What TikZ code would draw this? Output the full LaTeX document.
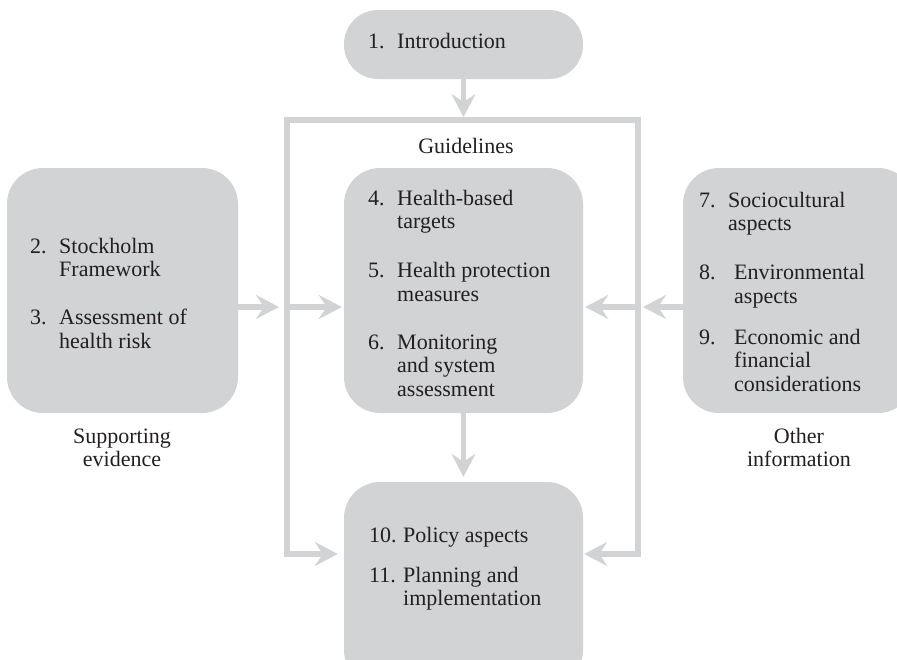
\documentclass[tikz,border=0pt]{standalone}
\usepackage{fontspec}
\setmainfont{Liberation Serif}
\usetikzlibrary{arrows.meta}
\definecolor{panelgrey}{RGB}{209,211,212}
\definecolor{textgrey}{RGB}{35,31,32}
\newcommand{\bodyfont}{\fontsize{22}{23.5}\selectfont}

\begin{document}
\begin{tikzpicture}[x=1pt, y=-1pt,
	panel/.style = {fill=panelgrey, rounded corners=36pt, inner sep=0pt},
	txt/.style = {anchor=base west, inner sep=0pt, text=textgrey, font=\bodyfont},
	heading/.style = {anchor=base, inner sep=0pt, text=textgrey, font=\bodyfont},
	wire/.style = {draw=panelgrey, line width=5.5pt},
	> = {Stealth[length=23pt, width=24pt, inset=8pt]}]
	\useasboundingbox (0,0) rectangle (897,659);
	\clip (0,0) rectangle (897,659);
	% boxes
	\node[panel, rounded corners=34pt, minimum width=239pt, minimum height=69pt] (intro) at (463.5,44.5) {};
	\node[panel, minimum width=231pt, minimum height=245pt] (evidence) at (122.5,290.5) {};
	\node[panel, minimum width=239pt, minimum height=245pt] (guide) at (463.5,290.5) {};
	\node[panel, minimum width=231pt, minimum height=245pt] (other) at (798.5,290.5) {};
	\node[panel, minimum width=239pt, minimum height=204pt] (policy) at (463.5,584) {};
	% texts
	\node[txt] (introtxt) at (368,48) {\begin{tabular}[t]{@{}p{29pt}@{}l@{}}
		1. & Introduction\end{tabular}};
	\node[txt] (evidencetxt) at (30,253) {\begin{tabular}[t]{@{}p{29pt}@{}l@{}}
		2. & Stockholm\\ & Framework\\[24.5pt]
		3. & Assessment of\\ & health risk\end{tabular}};
	\node[txt] (guidetxt) at (368,205) {\begin{tabular}[t]{@{}p{29pt}@{}l@{}}
		4. & Health-based\\ & targets\\[25.5pt]
		5. & Health protection\\ & measures\\[24.5pt]
		6. & Monitoring\\ & and system\\ & assessment\end{tabular}};
	\node[txt] (othertxt) at (699,207) {\begin{tabular}[t]{@{}p{29pt}@{}l@{}}
		7. & Sociocultural\\ & aspects\\[25.5pt]
		8. & \hspace*{6pt}Environmental\\ & \hspace*{6pt}aspects\\[17.5pt]
		9. & \hspace*{6pt}Economic and\\ & \hspace*{6pt}financial\\ & \hspace*{6pt}considerations\end{tabular}};
	\node[txt] (policytxt) at (369,542) {\begin{tabular}[t]{@{}p{34pt}@{}l@{}}
		10. & Policy aspects\\[16.5pt]
		11. & Planning and\\ & implementation\end{tabular}};
	\node[heading] (guidelines) at (466,153) {Guidelines};
	\node[heading] (evidencecap) at (122,443) {\begin{tabular}[t]{@{}c@{}}Supporting\\ evidence\end{tabular}};
	\node[heading] (othercap) at (799,443) {\begin{tabular}[t]{@{}c@{}}Other\\ information\end{tabular}};
	% frame and arrows
	\coordinate (ftl) at (287,120);
	\coordinate (ftr) at (638,120);
	\coordinate (fbl) at (287,554);
	\coordinate (fbr) at (638,554);
	\coordinate (lmid) at (287,307);
	\coordinate (rmid) at (638,307);
	\draw[wire, <->, shorten <=6pt, shorten >=1pt] (policy.west |- fbl) -- (fbl) -- (ftl) -- (ftr) -- (fbr) -- (policy.east |- fbr);
	\draw[wire, ->, shorten >=3pt] (intro.south) -- (intro.south |- ftl);
	\draw[wire, ->, shorten >=8pt] (evidence.east |- lmid) -- (lmid);
	\draw[wire, ->, shorten >=2pt] (lmid) -- (guide.west |- lmid);
	\draw[wire, ->, shorten >=5pt] (other.west |- rmid) -- (rmid);
	\draw[wire, ->, shorten >=2pt] (rmid) -- (guide.east |- rmid);
	\draw[wire, ->, shorten >=5pt] (guide.south) -- (policy.north);
\end{tikzpicture}
\end{document}
